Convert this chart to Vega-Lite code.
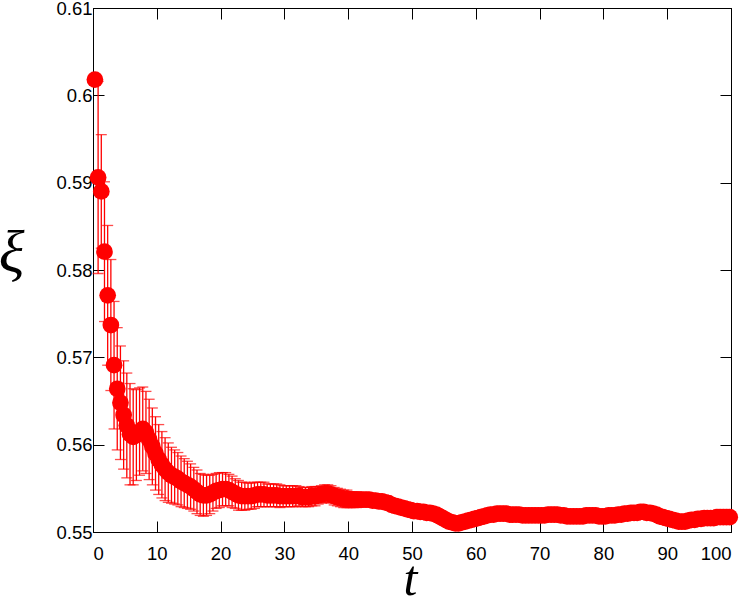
{
 "$schema": "https://vega.github.io/schema/vega-lite/v6.json",
 "width": 638, "height": 524,
 "autosize": {"type": "none"},
 "padding": {"left": 93, "top": 8, "right": 16, "bottom": 72},
 "background": "white",
 "config": {
  "view": {"stroke": "black", "strokeWidth": 1},
  "axis": {"grid": false, "domainColor": "black", "domainWidth": 1, "tickColor": "black", "tickWidth": 1, "tickSize": -11,
           "labelFont": "Liberation Sans", "labelFontSize": 18.5, "labelColor": "black", "labelPadding": 12}
 },
 "data": {"values": [
  {"t":0.3,"xi":0.6018,"e":0.0004},{"t":0.8,"xi":0.5906,"e":0.011},{"t":1.3,"xi":0.589,"e":0.0065},{"t":1.8,"xi":0.5821,"e":0.008},
  {"t":2.3,"xi":0.5771,"e":0.008},{"t":2.8,"xi":0.5737,"e":0.0075},{"t":3.3,"xi":0.5691,"e":0.0073},{"t":3.8,"xi":0.5664,"e":0.007},
  {"t":4.3,"xi":0.5648,"e":0.0065},{"t":4.8,"xi":0.5634,"e":0.0062},{"t":5.3,"xi":0.5622,"e":0.006},{"t":5.8,"xi":0.5612,"e":0.0058},
  {"t":6.3,"xi":0.5609,"e":0.0055},{"t":6.8,"xi":0.5611,"e":0.0052},{"t":7.3,"xi":0.5615,"e":0.005},{"t":7.8,"xi":0.5618,"e":0.0048},
  {"t":8.3,"xi":0.5614,"e":0.0047},{"t":8.8,"xi":0.5606,"e":0.0046},{"t":9.3,"xi":0.5598,"e":0.0044},{"t":9.8,"xi":0.559,"e":0.0042},
  {"t":10.3,"xi":0.5583,"e":0.004},{"t":10.8,"xi":0.5577,"e":0.0038},{"t":11.3,"xi":0.5572,"e":0.0036},{"t":11.8,"xi":0.5568,"e":0.0034},
  {"t":12.3,"xi":0.5565,"e":0.0032},{"t":12.8,"xi":0.5563,"e":0.0031},{"t":13.3,"xi":0.5561,"e":0.003},{"t":13.8,"xi":0.5558,"e":0.0029},
  {"t":14.3,"xi":0.5556,"e":0.0028},{"t":14.8,"xi":0.5554,"e":0.0027},{"t":15.3,"xi":0.5552,"e":0.0026},{"t":15.8,"xi":0.5549,"e":0.0025},
  {"t":16.3,"xi":0.5546,"e":0.0025},{"t":16.8,"xi":0.5543,"e":0.0024},{"t":17.3,"xi":0.5542,"e":0.0024},{"t":17.8,"xi":0.5542,"e":0.0023},
  {"t":18.3,"xi":0.5543,"e":0.0022},{"t":18.8,"xi":0.5545,"e":0.0021},{"t":19.3,"xi":0.5547,"e":0.002},{"t":19.8,"xi":0.5548,"e":0.002},
  {"t":20.3,"xi":0.5549,"e":0.0019},{"t":20.8,"xi":0.5549,"e":0.0019},{"t":21.3,"xi":0.5548,"e":0.0018},{"t":21.8,"xi":0.5546,"e":0.0018},
  {"t":22.3,"xi":0.5544,"e":0.0017},{"t":22.8,"xi":0.5542,"e":0.0017},{"t":23.3,"xi":0.5541,"e":0.0016},{"t":23.8,"xi":0.5541,"e":0.0016},
  {"t":24.3,"xi":0.5541,"e":0.0015},{"t":24.8,"xi":0.5541,"e":0.0015},{"t":25.3,"xi":0.5542,"e":0.0015},{"t":25.8,"xi":0.5543,"e":0.0014},
  {"t":26.3,"xi":0.5543,"e":0.0014},{"t":26.8,"xi":0.5543,"e":0.0014},{"t":27.3,"xi":0.5542,"e":0.0013},{"t":27.8,"xi":0.5542,"e":0.0013},
  {"t":28.3,"xi":0.5542,"e":0.0013},{"t":28.8,"xi":0.5542,"e":0.0013},{"t":29.3,"xi":0.5541,"e":0.0013},{"t":29.8,"xi":0.5541,"e":0.0012},
  {"t":30.3,"xi":0.5541,"e":0.0012},{"t":30.8,"xi":0.5541,"e":0.0012},{"t":31.3,"xi":0.5541,"e":0.0012},{"t":31.8,"xi":0.5541,"e":0.0012},
  {"t":32.3,"xi":0.5541,"e":0.0011},{"t":32.8,"xi":0.554,"e":0.0011},{"t":33.3,"xi":0.554,"e":0.0011},{"t":33.8,"xi":0.554,"e":0.0011},
  {"t":34.3,"xi":0.5541,"e":0.0011},{"t":34.8,"xi":0.5541,"e":0.0011},{"t":35.3,"xi":0.5542,"e":0.001},{"t":35.8,"xi":0.5543,"e":0.001},
  {"t":36.3,"xi":0.5544,"e":0.001},{"t":36.8,"xi":0.5544,"e":0.001},{"t":37.3,"xi":0.5543,"e":0.001},{"t":37.8,"xi":0.5541,"e":0.001},
  {"t":38.3,"xi":0.554,"e":0.001},{"t":38.8,"xi":0.5539,"e":0.001},{"t":39.3,"xi":0.5538,"e":0.001},{"t":39.8,"xi":0.5538,"e":0.001},
  {"t":40.3,"xi":0.5537,"e":0.0009},{"t":40.8,"xi":0.5537,"e":0.0009},{"t":41.3,"xi":0.5537,"e":0.0009},{"t":41.8,"xi":0.5537,"e":0.0008},
  {"t":42.3,"xi":0.5537,"e":0.0008},{"t":42.8,"xi":0.5537,"e":0.0008},{"t":43.3,"xi":0.5537,"e":0.0007},{"t":43.8,"xi":0.5536,"e":0.0007},
  {"t":44.3,"xi":0.5536,"e":0.0007},{"t":44.8,"xi":0.5535,"e":0.0006},{"t":45.3,"xi":0.5535,"e":0.0005},{"t":45.8,"xi":0.5534,"e":0.0004},
  {"t":46.3,"xi":0.5533,"e":0.0004},{"t":46.8,"xi":0.5531,"e":0.0004},{"t":47.3,"xi":0.553,"e":0.0004},{"t":47.8,"xi":0.5529,"e":0.0004},
  {"t":48.3,"xi":0.5528,"e":0.0004},{"t":48.8,"xi":0.5527,"e":0.0004},{"t":49.3,"xi":0.5526,"e":0.0004},{"t":49.8,"xi":0.5525,"e":0.0004},
  {"t":50.3,"xi":0.5524,"e":0.0004},{"t":50.8,"xi":0.5524,"e":0.0004},{"t":51.3,"xi":0.5523,"e":0.0004},{"t":51.8,"xi":0.5523,"e":0.0004},
  {"t":52.3,"xi":0.5522,"e":0.0004},{"t":52.8,"xi":0.5522,"e":0.0004},{"t":53.3,"xi":0.5521,"e":0.0004},{"t":53.8,"xi":0.552,"e":0.0004},
  {"t":54.3,"xi":0.5518,"e":0.0004},{"t":54.8,"xi":0.5516,"e":0.0004},{"t":55.3,"xi":0.5514,"e":0.0004},{"t":55.8,"xi":0.5512,"e":0.0004},
  {"t":56.3,"xi":0.5511,"e":0.0004},{"t":56.8,"xi":0.551,"e":0.0004},{"t":57.3,"xi":0.551,"e":0.0004},{"t":57.8,"xi":0.5511,"e":0.0004},
  {"t":58.3,"xi":0.5512,"e":0.0004},{"t":58.8,"xi":0.5513,"e":0.0004},{"t":59.3,"xi":0.5514,"e":0.0004},{"t":59.8,"xi":0.5515,"e":0.0004},
  {"t":60.3,"xi":0.5516,"e":0.0004},{"t":60.8,"xi":0.5517,"e":0.0004},{"t":61.3,"xi":0.5518,"e":0.0004},{"t":61.8,"xi":0.5519,"e":0.0004},
  {"t":62.3,"xi":0.552,"e":0.0004},{"t":62.8,"xi":0.552,"e":0.0004},{"t":63.3,"xi":0.5521,"e":0.0004},{"t":63.8,"xi":0.5521,"e":0.0004},
  {"t":64.3,"xi":0.5521,"e":0.0004},{"t":64.8,"xi":0.5521,"e":0.0004},{"t":65.3,"xi":0.552,"e":0.0004},{"t":65.8,"xi":0.552,"e":0.0004},
  {"t":66.3,"xi":0.552,"e":0.0004},{"t":66.8,"xi":0.552,"e":0.0004},{"t":67.3,"xi":0.5519,"e":0.0004},{"t":67.8,"xi":0.5519,"e":0.0004},
  {"t":68.3,"xi":0.5519,"e":0.0004},{"t":68.8,"xi":0.5519,"e":0.0004},{"t":69.3,"xi":0.5519,"e":0.0004},{"t":69.8,"xi":0.5519,"e":0.0004},
  {"t":70.3,"xi":0.5519,"e":0.0004},{"t":70.8,"xi":0.5519,"e":0.0004},{"t":71.3,"xi":0.552,"e":0.0004},{"t":71.8,"xi":0.552,"e":0.0004},
  {"t":72.3,"xi":0.552,"e":0.0004},{"t":72.8,"xi":0.552,"e":0.0004},{"t":73.3,"xi":0.5519,"e":0.0004},{"t":73.8,"xi":0.5519,"e":0.0004},
  {"t":74.3,"xi":0.5518,"e":0.0004},{"t":74.8,"xi":0.5518,"e":0.0004},{"t":75.3,"xi":0.5518,"e":0.0004},{"t":75.8,"xi":0.5518,"e":0.0004},
  {"t":76.3,"xi":0.5518,"e":0.0004},{"t":76.8,"xi":0.5518,"e":0.0004},{"t":77.3,"xi":0.5519,"e":0.0004},{"t":77.8,"xi":0.5519,"e":0.0004},
  {"t":78.3,"xi":0.5519,"e":0.0004},{"t":78.8,"xi":0.5519,"e":0.0004},{"t":79.3,"xi":0.5518,"e":0.0004},{"t":79.8,"xi":0.5518,"e":0.0004},
  {"t":80.3,"xi":0.5518,"e":0.0004},{"t":80.8,"xi":0.5519,"e":0.0004},{"t":81.3,"xi":0.5519,"e":0.0004},{"t":81.8,"xi":0.5519,"e":0.0004},
  {"t":82.3,"xi":0.552,"e":0.0004},{"t":82.8,"xi":0.552,"e":0.0004},{"t":83.3,"xi":0.5521,"e":0.0004},{"t":83.8,"xi":0.5521,"e":0.0004},
  {"t":84.3,"xi":0.5522,"e":0.0004},{"t":84.8,"xi":0.5522,"e":0.0004},{"t":85.3,"xi":0.5522,"e":0.0004},{"t":85.8,"xi":0.5523,"e":0.0004},
  {"t":86.3,"xi":0.5523,"e":0.0004},{"t":86.8,"xi":0.5522,"e":0.0004},{"t":87.3,"xi":0.5522,"e":0.0004},{"t":87.8,"xi":0.5521,"e":0.0004},
  {"t":88.3,"xi":0.552,"e":0.0004},{"t":88.8,"xi":0.5518,"e":0.0004},{"t":89.3,"xi":0.5517,"e":0.0004},{"t":89.8,"xi":0.5516,"e":0.0004},
  {"t":90.3,"xi":0.5515,"e":0.0004},{"t":90.8,"xi":0.5514,"e":0.0004},{"t":91.3,"xi":0.5513,"e":0.0004},{"t":91.8,"xi":0.5512,"e":0.0004},
  {"t":92.3,"xi":0.5512,"e":0.0004},{"t":92.8,"xi":0.5512,"e":0.0004},{"t":93.3,"xi":0.5513,"e":0.0004},{"t":93.8,"xi":0.5514,"e":0.0004},
  {"t":94.3,"xi":0.5514,"e":0.0004},{"t":94.8,"xi":0.5515,"e":0.0004},{"t":95.3,"xi":0.5515,"e":0.0004},{"t":95.8,"xi":0.5516,"e":0.0004},
  {"t":96.3,"xi":0.5516,"e":0.0004},{"t":96.8,"xi":0.5516,"e":0.0004},{"t":97.3,"xi":0.5516,"e":0.0004},{"t":97.8,"xi":0.5517,"e":0.0004},
  {"t":98.3,"xi":0.5517,"e":0.0004},{"t":98.8,"xi":0.5517,"e":0.0004},{"t":99.3,"xi":0.5517,"e":0.0004},{"t":99.8,"xi":0.5517,"e":0.0004}
 ]},
 "layer": [
  {
   "mark": {"type": "circle", "color": "#ff0000", "opacity": 1, "size": 280, "clip": false},
   "encoding": {
    "x": {"field": "t", "type": "quantitative", "scale": {"domain": [0, 100], "nice": false, "zero": false},
          "axis": {"orient": "bottom", "values": [0,10,20,30,40,50,60,70,80,90,100], "format": "d", "labelPadding": 23,
                   "title": "t", "titleFont": "Liberation Serif", "titleFontStyle": "italic", "titleFontWeight": "normal",
                   "titleFontSize": 50, "titleColor": "black", "titleX": 317, "titleY": 72, "titleAlign": "center", "titleBaseline": "bottom"}},
    "y": {"field": "xi", "type": "quantitative", "scale": {"domain": [0.55, 0.61], "nice": false, "zero": false},
          "axis": {"orient": "left", "values": [0.55,0.56,0.57,0.58,0.59,0.6,0.61], "format": ".2~f",
                   "title": "ξ", "titleFont": "Liberation Serif", "titleFontStyle": "italic", "titleFontWeight": "normal",
                   "titleFontSize": 60, "titleColor": "black", "titleAngle": 0, "titleX": -82, "titleY": 245, "titleAlign": "center", "titleBaseline": "middle"}}
   }
  },
  {
   "mark": {"type": "errorbar", "ticks": true, "color": "#ff0000", "thickness": 1.3, "size": 11},
   "encoding": {
    "x": {"field": "t", "type": "quantitative", "scale": {"domain": [0, 100], "nice": false, "zero": false},
          "axis": {"orient": "top", "values": [0,10,20,30,40,50,60,70,80,90,100], "labels": false, "title": null}},
    "y": {"field": "xi", "type": "quantitative", "scale": {"domain": [0.55, 0.61], "nice": false, "zero": false},
          "axis": {"orient": "right", "values": [0.55,0.56,0.57,0.58,0.59,0.6,0.61], "labels": false, "title": null}},
    "yError": {"field": "e"}
   }
  }
 ],
 "resolve": {"axis": {"x": "independent", "y": "independent"}}
}
